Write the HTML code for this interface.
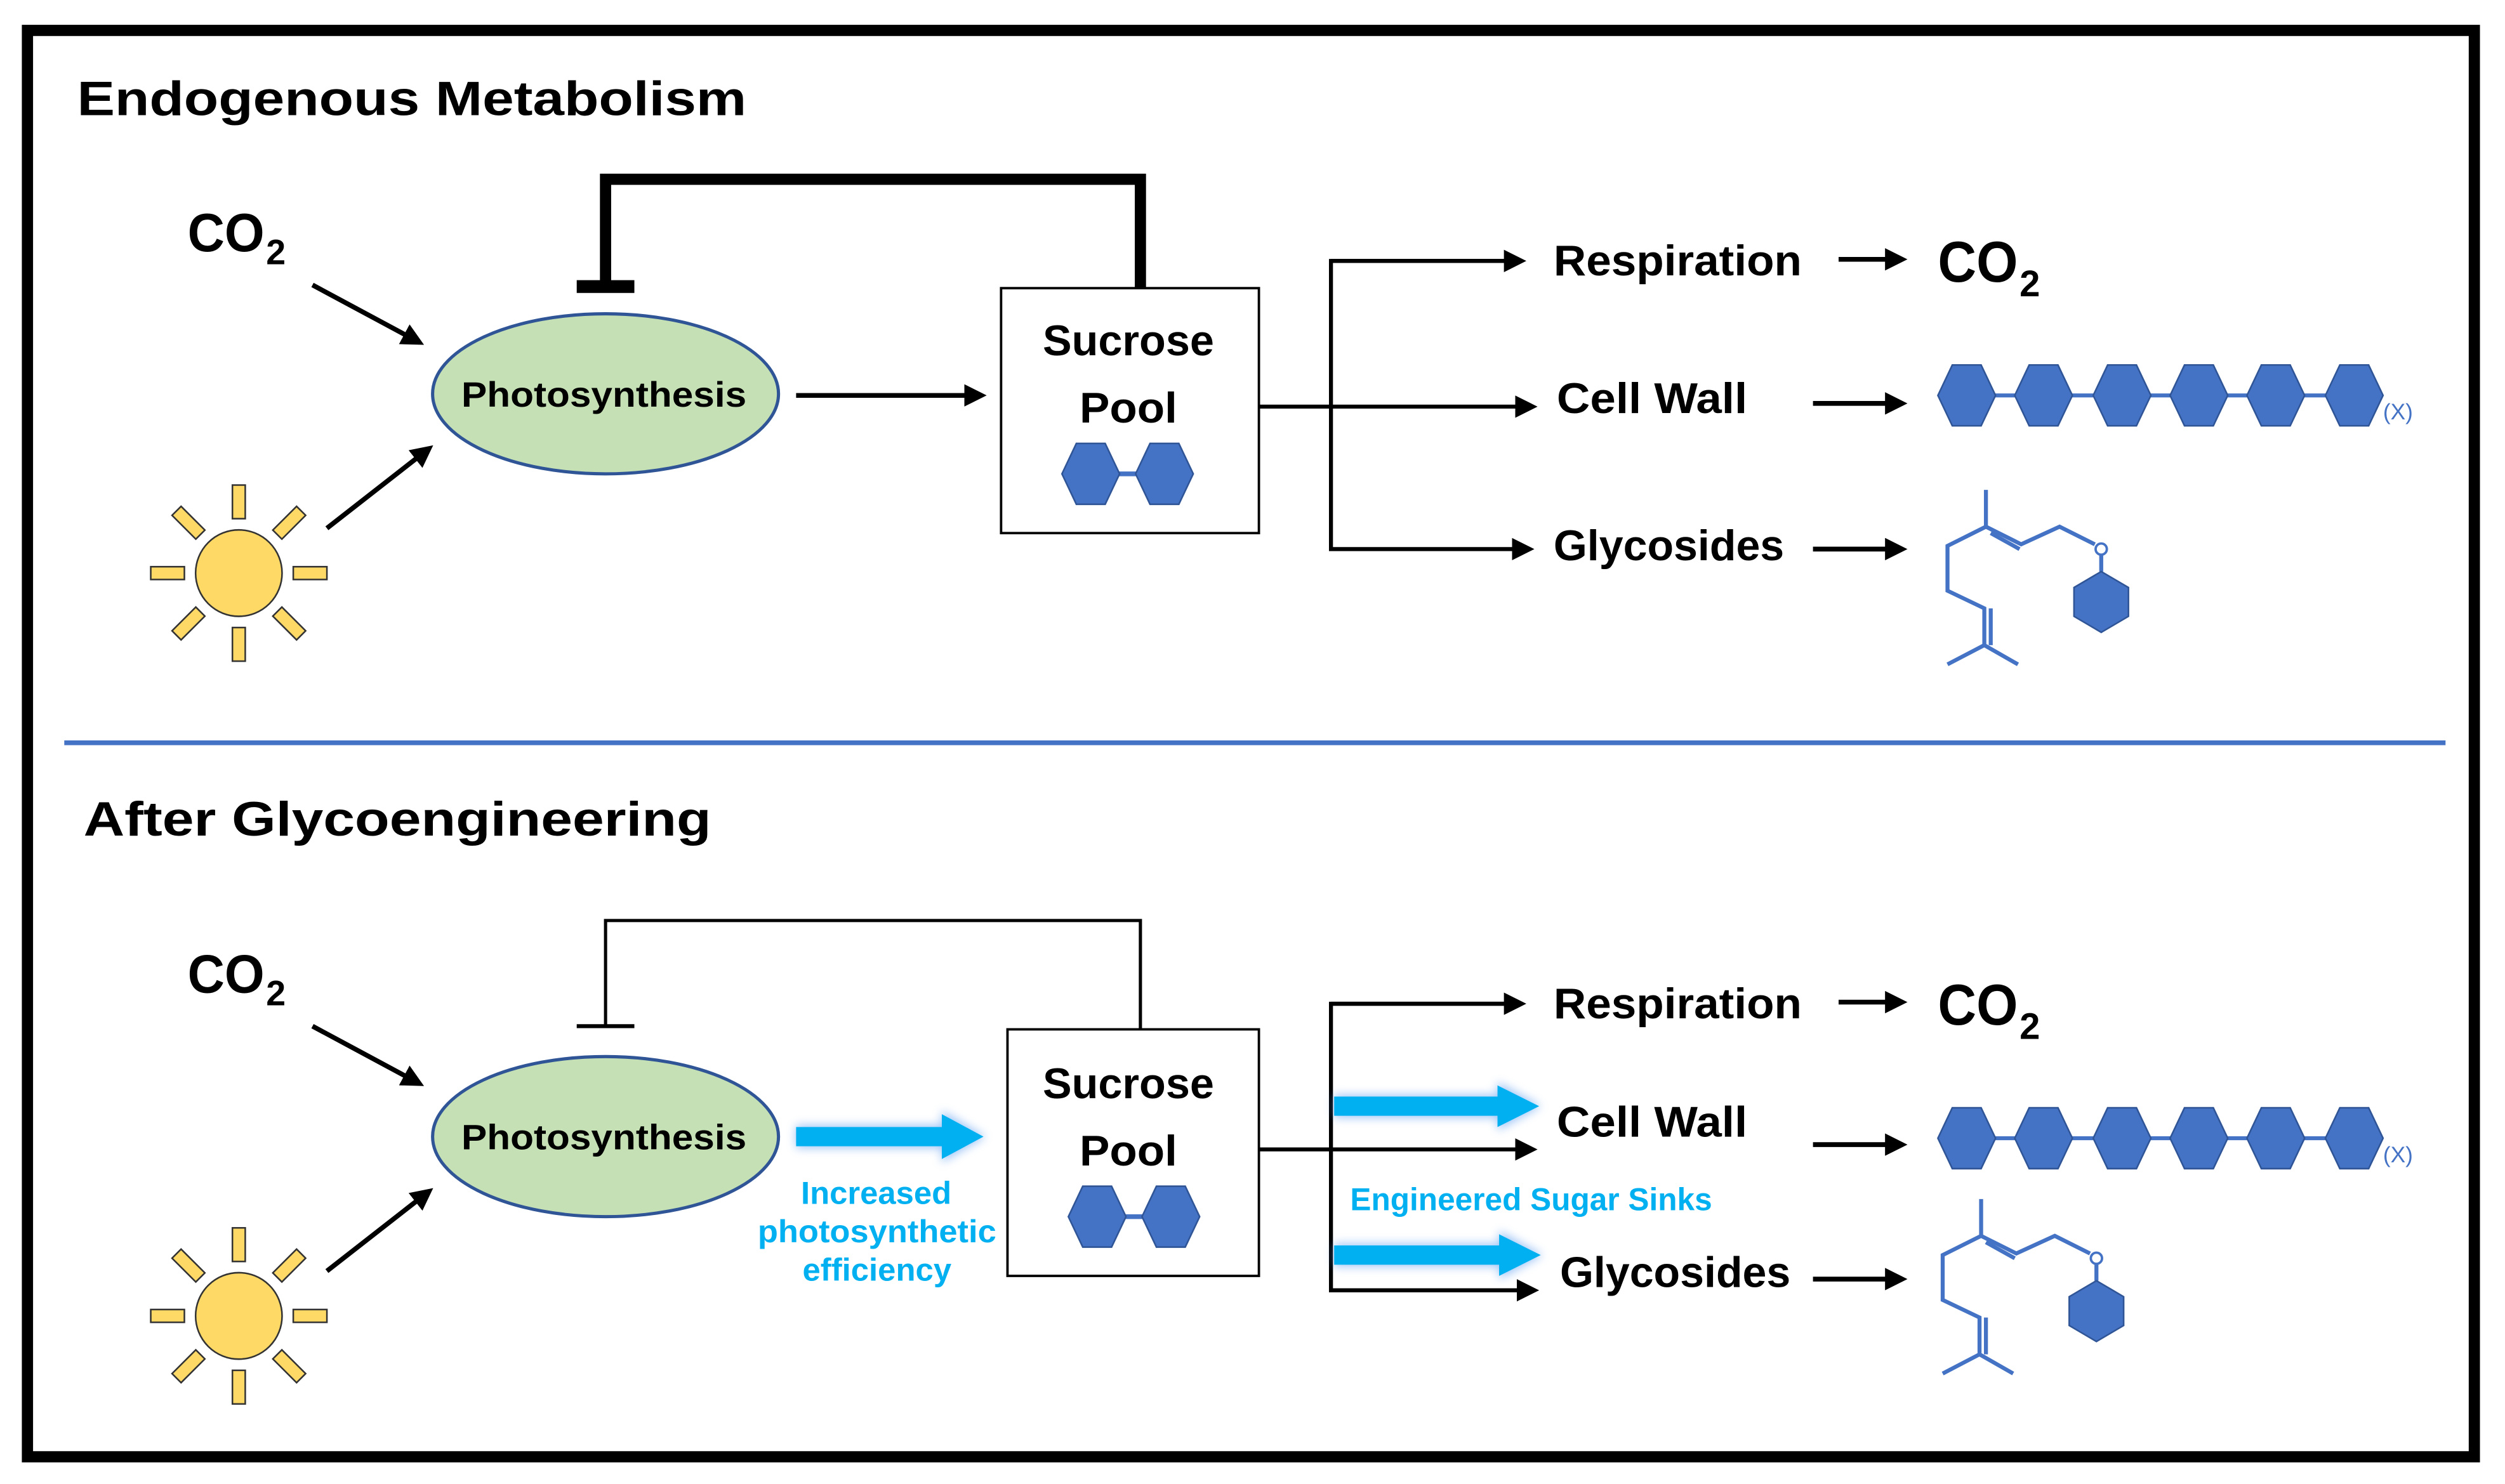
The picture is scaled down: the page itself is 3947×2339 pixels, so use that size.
<!DOCTYPE html>
<html><head><meta charset="utf-8"><style>html,body{margin:0;padding:0;background:#fff}svg{display:block}</style></head>
<body>
<svg xmlns="http://www.w3.org/2000/svg" width="3947" height="2339" viewBox="0 0 1564 927" font-family="Liberation Sans, sans-serif" font-weight="bold">
<defs>
<marker id="ah" markerWidth="10" markerHeight="10" refX="8" refY="5" orient="auto" markerUnits="userSpaceOnUse"><path d="M0,0 L10,5 L0,10 Z" fill="#000"/></marker>
<marker id="ah2" markerWidth="14" markerHeight="14" refX="11" refY="7" orient="auto" markerUnits="userSpaceOnUse"><path d="M0,0 L14,7 L0,14 Z" fill="#000"/></marker>
<filter id="glow" x="-20%" y="-80%" width="140%" height="260%"><feGaussianBlur stdDeviation="3"/></filter>
<g id="sun">
<g fill="#FFD966" stroke="#333" stroke-width="1">
<circle cx="0" cy="0" r="27"/>
<rect x="-4" y="-55" width="8" height="21"/>
<rect x="-4" y="-55" width="8" height="21" transform="rotate(45)"/>
<rect x="-4" y="-55" width="8" height="21" transform="rotate(90)"/>
<rect x="-4" y="-55" width="8" height="21" transform="rotate(135)"/>
<rect x="-4" y="-55" width="8" height="21" transform="rotate(180)"/>
<rect x="-4" y="-55" width="8" height="21" transform="rotate(225)"/>
<rect x="-4" y="-55" width="8" height="21" transform="rotate(270)"/>
<rect x="-4" y="-55" width="8" height="21" transform="rotate(315)"/>
</g></g>
<polygon id="hx" points="-18,0 -9,-19 9,-19 18,0 9,19 -9,19" fill="#4472C4" stroke="#2F5597" stroke-width="1"/>
<polygon id="hv" points="0,-19 17,-9 17,9 0,19 -17,9 -17,-9" fill="#4472C4" stroke="#2F5597" stroke-width="1"/>
<g id="chain">
<line x1="1228" y1="0" x2="1470" y2="0" stroke="#4472C4" stroke-width="2.5"/>
<use href="#hx" x="1228"/><use href="#hx" x="1276"/><use href="#hx" x="1325"/><use href="#hx" x="1373"/><use href="#hx" x="1421"/><use href="#hx" x="1470"/>
<text x="1488" y="15" font-size="14" font-weight="normal" fill="#4472C4">(X)</text>
</g>
<g id="mol" fill="none" stroke="#4472C4" stroke-width="2.5">
<polyline points="1237,749 1237,772 1259,783 1283,772 1305,783"/>
<line x1="1240" y1="776" x2="1258" y2="786"/>
<circle cx="1309" cy="786" r="3.5" stroke-width="1.5" fill="#fff"/>
<line x1="1309" y1="790" x2="1309" y2="800"/>
<polyline points="1237,772 1213,784 1213,812 1236,823 1236,846 1213,858"/>
<line x1="1240" y1="823" x2="1240" y2="846"/>
<line x1="1236" y1="846" x2="1257" y2="858"/>
<use href="#hv" x="1309" y="819" stroke="#2F5597"/>
</g>
<g id="sucrose">
<line x1="681" y1="0" x2="727" y2="0" stroke="#4472C4" stroke-width="3"/>
<use href="#hx" x="681"/><use href="#hx" x="727"/>
</g>
</defs>

<rect x="0" y="0" width="1564" height="927" fill="#fff"/>
<rect x="17" y="19" width="1528" height="891" fill="none" stroke="#000" stroke-width="7"/>
<line x1="40" y1="464" x2="1527" y2="464" stroke="#4472C4" stroke-width="3"/>

<!-- TOP -->
<text x="48" y="72" font-size="30" textLength="418" lengthAdjust="spacingAndGlyphs">Endogenous Metabolism</text>
<text x="117" y="157" font-size="34" textLength="48" lengthAdjust="spacingAndGlyphs">CO</text>
<text x="166" y="165" font-size="22">2</text>
<line x1="195" y1="178" x2="262" y2="214" stroke="#000" stroke-width="3" marker-end="url(#ah2)"/>
<use href="#sun" x="149" y="358"/>
<line x1="204" y1="330" x2="268" y2="280" stroke="#000" stroke-width="3" marker-end="url(#ah2)"/>
<ellipse cx="378" cy="246" rx="108" ry="50" fill="#C5E0B4" stroke="#2F5597" stroke-width="2"/>
<text x="288" y="254" font-size="22" textLength="178" lengthAdjust="spacingAndGlyphs">Photosynthesis</text>
<polyline points="378,180 378,112 712,112 712,180" fill="none" stroke="#000" stroke-width="7"/>
<rect x="360" y="175" width="36" height="8" fill="#000"/>
<line x1="497" y1="247" x2="613" y2="247" stroke="#000" stroke-width="3" marker-end="url(#ah2)"/>
<rect x="625" y="180" width="161" height="153" fill="#fff" stroke="#000" stroke-width="1.5"/>
<text x="651" y="222" font-size="27" textLength="107" lengthAdjust="spacingAndGlyphs">Sucrose</text>
<text x="674" y="264" font-size="27" textLength="61" lengthAdjust="spacingAndGlyphs">Pool</text>
<use href="#sucrose" y="296"/>
<polyline points="950,163 831,163 831,343 955,343" fill="none" stroke="#000" stroke-width="2.5" marker-end="url(#ah2)"/>
<line x1="831" y1="163" x2="950" y2="163" stroke="#000" stroke-width="2.5" marker-end="url(#ah2)"/>
<line x1="786" y1="254" x2="957" y2="254" stroke="#000" stroke-width="2.5" marker-end="url(#ah2)"/>
<text x="970" y="172" font-size="27" textLength="155" lengthAdjust="spacingAndGlyphs">Respiration</text>
<text x="972" y="258" font-size="27" textLength="119" lengthAdjust="spacingAndGlyphs">Cell Wall</text>
<text x="970" y="350" font-size="27" textLength="144" lengthAdjust="spacingAndGlyphs">Glycosides</text>
<line x1="1148" y1="162" x2="1188" y2="162" stroke="#000" stroke-width="3" marker-end="url(#ah2)"/>
<line x1="1132" y1="252" x2="1188" y2="252" stroke="#000" stroke-width="3" marker-end="url(#ah2)"/>
<line x1="1132" y1="343" x2="1188" y2="343" stroke="#000" stroke-width="3" marker-end="url(#ah2)"/>
<text x="1210" y="176" font-size="36" textLength="50" lengthAdjust="spacingAndGlyphs">CO</text>
<text x="1261" y="185" font-size="23">2</text>
<use href="#chain" y="247"/>
<use href="#mol" x="3" y="-443"/>

<!-- BOTTOM -->
<text x="52" y="522" font-size="30" textLength="392" lengthAdjust="spacingAndGlyphs">After Glycoengineering</text>
<text x="117" y="620" font-size="34" textLength="48" lengthAdjust="spacingAndGlyphs">CO</text>
<text x="166" y="628" font-size="22">2</text>
<line x1="195" y1="641" x2="262" y2="677" stroke="#000" stroke-width="3" marker-end="url(#ah2)"/>
<use href="#sun" x="149" y="822"/>
<line x1="204" y1="794" x2="268" y2="744" stroke="#000" stroke-width="3" marker-end="url(#ah2)"/>
<ellipse cx="378" cy="710" rx="108" ry="50" fill="#C5E0B4" stroke="#2F5597" stroke-width="2"/>
<text x="288" y="718" font-size="22" textLength="178" lengthAdjust="spacingAndGlyphs">Photosynthesis</text>
<polyline points="378,641 378,575 712,575 712,643" fill="none" stroke="#000" stroke-width="2"/>
<line x1="360" y1="641" x2="396" y2="641" stroke="#000" stroke-width="2.5"/>
<g>
<path d="M497,703 L588,703 L588,694 L615,710 L588,726 L588,717 L497,717 Z" fill="#5B9BF0" opacity="0.6" filter="url(#glow)"/>
<path d="M497,704 L588,704 L588,696 L614,710 L588,724 L588,716 L497,716 Z" fill="#00B0F0"/>
</g>
<g fill="#00B0F0" font-size="20">
<text x="500" y="752" textLength="94" lengthAdjust="spacingAndGlyphs">Increased</text>
<text x="473" y="776" textLength="149" lengthAdjust="spacingAndGlyphs">photosynthetic</text>
<text x="501" y="800" textLength="93" lengthAdjust="spacingAndGlyphs">efficiency</text>
</g>
<rect x="629" y="643" width="157" height="154" fill="#fff" stroke="#000" stroke-width="1.5"/>
<text x="651" y="686" font-size="27" textLength="107" lengthAdjust="spacingAndGlyphs">Sucrose</text>
<text x="674" y="728" font-size="27" textLength="61" lengthAdjust="spacingAndGlyphs">Pool</text>
<use href="#sucrose" x="4" y="760"/>
<polyline points="950,627 831,627 831,806 958,806" fill="none" stroke="#000" stroke-width="2.5" marker-end="url(#ah2)"/>
<line x1="831" y1="627" x2="950" y2="627" stroke="#000" stroke-width="2.5" marker-end="url(#ah2)"/>
<line x1="786" y1="718" x2="957" y2="718" stroke="#000" stroke-width="2.5" marker-end="url(#ah2)"/>
<g>
<path d="M833,684 L935,684 L935,676 L962,691 L935,706 L935,698 L833,698 Z" fill="#5B9BF0" opacity="0.6" filter="url(#glow)"/>
<path d="M833,685 L935,685 L935,678 L961,691 L935,704 L935,697 L833,697 Z" fill="#00B0F0"/>
<path d="M833,777 L936,777 L936,769 L963,784 L936,799 L936,791 L833,791 Z" fill="#5B9BF0" opacity="0.6" filter="url(#glow)"/>
<path d="M833,778 L936,778 L936,771 L962,784 L936,797 L936,790 L833,790 Z" fill="#00B0F0"/>
</g>
<text x="843" y="756" font-size="20" fill="#00B0F0" textLength="226" lengthAdjust="spacingAndGlyphs">Engineered Sugar Sinks</text>
<text x="970" y="636" font-size="27" textLength="155" lengthAdjust="spacingAndGlyphs">Respiration</text>
<text x="972" y="710" font-size="27" textLength="119" lengthAdjust="spacingAndGlyphs">Cell Wall</text>
<text x="974" y="804" font-size="27" textLength="144" lengthAdjust="spacingAndGlyphs">Glycosides</text>
<line x1="1148" y1="626" x2="1188" y2="626" stroke="#000" stroke-width="3" marker-end="url(#ah2)"/>
<line x1="1132" y1="715" x2="1188" y2="715" stroke="#000" stroke-width="3" marker-end="url(#ah2)"/>
<line x1="1132" y1="799" x2="1188" y2="799" stroke="#000" stroke-width="3" marker-end="url(#ah2)"/>
<text x="1210" y="640" font-size="36" textLength="50" lengthAdjust="spacingAndGlyphs">CO</text>
<text x="1261" y="649" font-size="23">2</text>
<use href="#chain" y="711"/>
<use href="#mol"/>
</svg>
</body></html>
